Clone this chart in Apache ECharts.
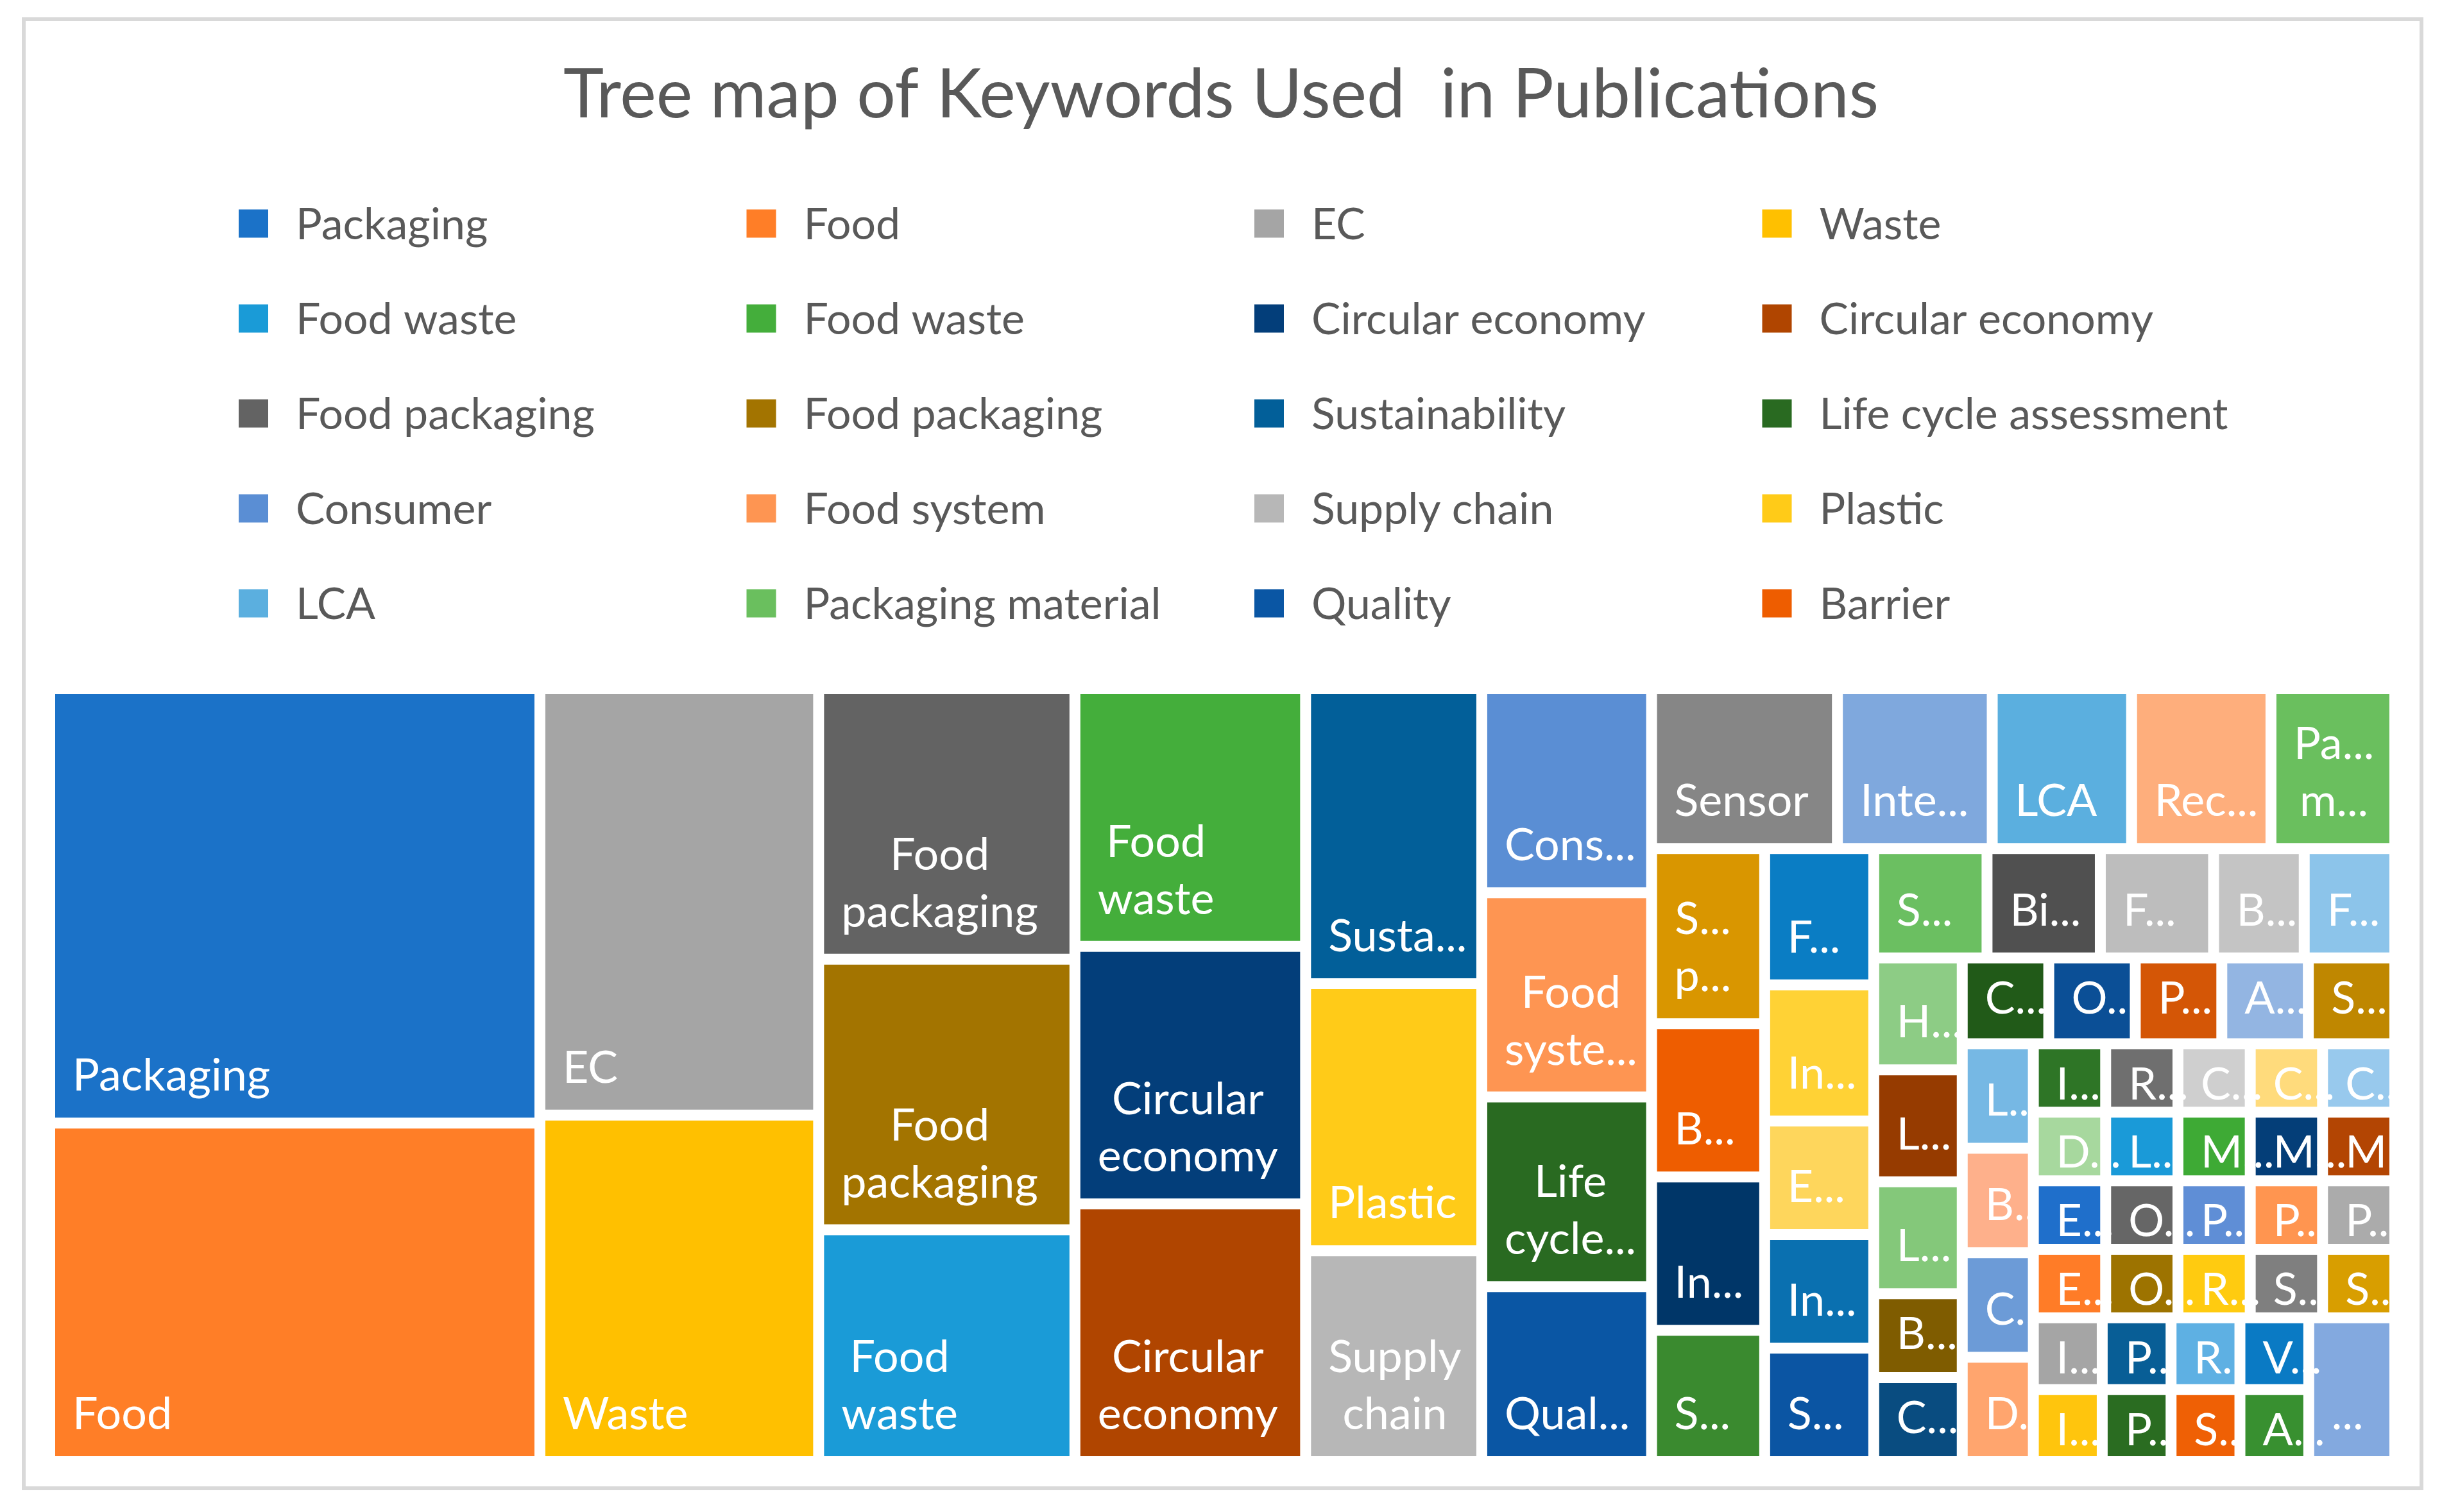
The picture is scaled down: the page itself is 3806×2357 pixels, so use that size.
<!DOCTYPE html>
<html>
<head>
<meta charset="utf-8">
<script src="https://cdn.jsdelivr.net/npm/echarts@6/dist/echarts.min.js"></script>
<style>
html,body{margin:0;padding:0;background:#ffffff;}
#chart{width:3806px;height:2357px;}
</style>
</head>
<body>
<div id="chart"></div>
<script>
// ---------------- data ----------------
const chartTitle = 'Tree map of Keywords Used  in Publications';

// keywords in treemap (layout) order
const keywords = [
  'Packaging','Food','EC','Waste',
  'Food packaging','Food packaging','Food waste','Food waste','Circular economy','Circular economy',
  'Sustainability','Plastic','Supply chain',
  'Consumer','Food system','Life cycle assessment','Quality',
  'Sensor','Inte...','LCA','Rec...','Packaging material',
  'S... p...','Barrier','In...','S...',
  'F...','In...','E...','In...','S...',
  'S...','Bi...','F...','B...','F...',
  'H...','L...','L...','B...','C...',
  'C...','O...','P...','A...','S...',
  'L...','B...','C...','D...',
  'I...','D...','E...','E...',
  'R...','L...','O...','O...',
  'C...','C...','C...',
  'M...','P...','R...',
  'M...','M...',
  'P...','S...',
  'P...','S...',
  'I...','I...','P...','P...','R...','S...','V...','A...',
  '...'
];

// label text as shown in the cells
const cellLabels = [
  'Packaging','Food','EC','Waste',
  'Food\npackaging','Food\npackaging','Food\nwaste','Food\nwaste','Circular\neconomy','Circular\neconomy',
  'Susta...','Plastic','Supply\nchain',
  'Cons...','Food\nsyste...','Life\ncycle...','Qual...',
  'Sensor','Inte...','LCA','Rec...','Pa...\nm...',
  'S...\np...','B...','In...','S...',
  'F...','In...','E...','In...','S...',
  'S...','Bi...','F...','B...','F...',
  'H...','L...','L...','B...','C...',
  'C...','O...','P...','A...','S...',
  'L...','B...','C...','D...',
  'I...','D...','E...','E...',
  'R...','L...','O...','O...',
  'C...','C...','C...',
  'M...','P...','R...',
  'M...','M...',
  'P...','S...',
  'P...','S...',
  'I...','I...','P...','P...','R...','S...','V...','A...',
  '...'
];

// keyword counts
const counts = [
  86, 67, 48, 39,
  28, 28, 24, 24, 24, 24,
  21, 19, 15,
  14, 14, 13, 12,
  12, 10, 9, 9, 8,
  8, 7, 7, 6,
  6, 6, 5, 5, 5,
  5, 5, 5, 4, 4,
  4, 4, 4, 3, 3,
  3, 3, 3, 3, 3,
  3, 3, 3, 3,
  2, 2, 2, 2,
  2, 2, 2, 2,
  2, 2, 2,
  2, 2, 2,
  2, 2,
  2, 2,
  2, 2,
  2, 2, 2, 2, 2, 2, 2, 2,
  5
];

const cellColors = [
  '#1B72C8','#FF7E27','#A5A5A5','#FFC000',
  '#636363','#A37400','#1A9BD7','#44AE3B','#033E7A','#B04500',
  '#025F99','#FFCB18','#B7B7B7',
  '#5A8ED4','#FE9552','#296A21','#0A56A4',
  '#868686','#7FA8DD','#5BAFDF','#FEAE7C','#6ABF5E',
  '#D99600','#EE5D00','#003668','#3A8A2F',
  '#0A7DC4','#FFD235','#FED65C','#0A70B0','#0B55A3',
  '#6BBF61','#505050','#BDBDBD','#C4C4C4','#8CC4EA',
  '#8DCC85','#963B00','#84C87A','#7F5C00','#094C80',
  '#215A18','#0B4F96','#D45606','#93B5E2','#BF8700',
  '#76B8E4','#FEB08B','#6C9BD7','#FFA56E',
  '#2E7526','#A7D89E','#1F6FCB','#FF7C27',
  '#6F6F6F','#1A9AD8','#666666','#9D7300',
  '#CFCFCF','#FFDB7C','#98C9ED',
  '#3EAA35','#5F8ED6','#FFCB10',
  '#043E78','#B34503',
  '#FF9550','#7F7F7F',
  '#ABABAB','#D89E00',
  '#A5A5A5','#FFC50D','#085E96','#2A6C21','#5EB0E3','#EF6005','#0A7AC4','#389030',
  '#83A9DF'
];

// number of cells in each successive block of the treemap
const blockSizes = [2,2,3,3,3,4,5,4,5,5,5,5,4,20,2,2,2,2,1];

// legend entries (indices into the keyword arrays, in legend order)
const legendEntries = [0,1,2,3,6,7,8,9,4,5,10,15,13,14,12,11,19,21,16,23];

// ---------------- build tree ----------------
function leaf(i) {
  const item = {
    name: keywords[i],
    value: counts[i],
    disp: cellLabels[i],
    itemStyle: { color: cellColors[i] }
  };
  if (cellLabels[i].indexOf('\n') >= 0) item.label = { lineHeight: 89 };
  return item;
}
function buildTree() {
  let idx = 0;
  const blocks = [];
  blockSizes.forEach(function (n, s) {
    const kids = [];
    for (let k = 0; k < n; k++, idx++) kids.push(leaf(idx));
    blocks.push(kids.length === 1 ? kids[0] : { name: 'block ' + (s + 1), children: kids });
  });
  let node = blocks[blocks.length - 1];
  for (let s = blocks.length - 2; s >= 0; s--) {
    node = { name: 'group ' + (s + 1), children: [blocks[s], node] };
  }
  return node.children;
}

// ---------------- text metrics ----------------
const mctx = document.createElement('canvas').getContext('2d');
function metrics(font) {
  mctx.font = font;
  mctx.textBaseline = 'middle';
  const m = mctx.measureText('H');
  return { below: m.actualBoundingBoxDescent, above: m.actualBoundingBoxAscent };
}
const LABEL_FONT = '70px Lato';
const lm = metrics(LABEL_FONT);
const CAP = lm.above + lm.below;

function labelLayout(p) {
  if (!p.text) return {};
  const r = p.rect;
  const lines = String(p.text).split('\n');
  const n = lines.length;
  mctx.font = LABEL_FONT;
  let w = 0;
  lines.forEach(function (l) { w = Math.max(w, mctx.measureText(l).width); });
  const lh = n > 1 ? 89 : 72;
  let base = r.y + r.height - 42;
  const minBase = r.y + 28 + CAP + (n - 1) * 89;
  if (base < minBase) base = minBase;
  const y = base - lm.below + lh / 2;
  return { x: r.x + 27 + w / 2, y: y, align: 'center', verticalAlign: 'bottom' };
}

// ---------------- graphics: frame, title, legend ----------------
function midFor(font, capCenter) {
  const mm = metrics(font);
  return capCenter - (mm.below - mm.above) / 2;
}
const graphics = [];
graphics.push({
  type: 'rect', z: 0,
  shape: { x: 37, y: 30, width: 3737, height: 2290 },
  style: { fill: 'none', stroke: '#D9D9D9', lineWidth: 6 }
});
const TITLE_FONT = '107px Lato';
graphics.push({
  type: 'text', z: 5,
  style: {
    text: chartTitle, x: 1903, y: midFor(TITLE_FONT, 144),
    font: TITLE_FONT, fill: '#595959', align: 'center', verticalAlign: 'middle'
  }
});
const LEG_FONT = '68px Lato';
const legMid = midFor(LEG_FONT, 0);
legendEntries.forEach(function (ki, j) {
  const col = j % 4, row = Math.floor(j / 4);
  const x = 372 + col * 791.5;
  const cy = 348.5 + row * 148;
  graphics.push({
    type: 'rect', z: 5,
    shape: { x: x, y: cy - 22, width: 46, height: 44 },
    style: { fill: cellColors[ki] }
  });
  graphics.push({
    type: 'text', z: 5,
    style: {
      text: keywords[ki], x: x + 89, y: cy + legMid,
      font: LEG_FONT, fill: '#595959', align: 'left', verticalAlign: 'middle'
    }
  });
});

// ---------------- chart ----------------
const chart = echarts.init(document.getElementById('chart'), null, { renderer: 'canvas' });
chart.setOption({
  animation: false,
  backgroundColor: '#ffffff',
  graphic: graphics,
  series: [{
    type: 'treemap',
    left: 86, top: 1082, width: 3638, height: 1188,
    squareRatio: 1,
    sort: false,
    roam: false,
    nodeClick: false,
    breadcrumb: { show: false },
    visibleMin: 0,
    itemStyle: { gapWidth: 17, borderWidth: 0, borderColor: '#ffffff' },
    upperLabel: { show: false },
    label: {
      show: true,
      position: 'insideBottomLeft',
      color: '#ffffff',
      fontFamily: 'Lato',
      fontSize: 70,
      lineHeight: 72,
      padding: 0,
      overflow: 'none',
      formatter: function (p) { return (p.data && p.data.disp) ? p.data.disp : ''; }
    },
    labelLayout: labelLayout,
    emphasis: { disabled: true },
    data: buildTree()
  }]
});
</script>
</body>
</html>
